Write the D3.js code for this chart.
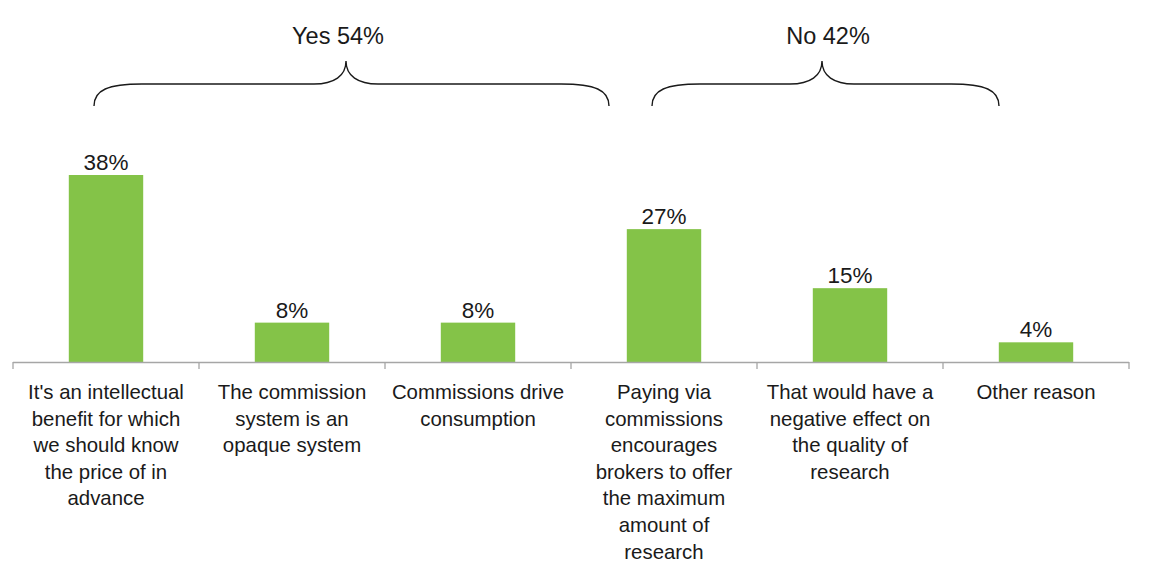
<!DOCTYPE html>
<html>
<head>
<meta charset="utf-8">
<script src="https://cdn.jsdelivr.net/npm/d3@7"></script>
<style>
  html, body { margin: 0; padding: 0; background: #fff; }
  svg { display: block; font-family: "Liberation Sans", Arial, sans-serif; }
</style>
</head>
<body>
<svg id="chart" width="1165" height="569"></svg>
<script>
// ---- data ----
const categories = [
  ["It's an intellectual", "benefit for which", "we should know", "the price of in", "advance"],
  ["The commission", "system is an", "opaque system"],
  ["Commissions drive", "consumption"],
  ["Paying via", "commissions", "encourages", "brokers to offer", "the maximum", "amount of", "research"],
  ["That would have a", "negative effect on", "the quality of", "research"],
  ["Other reason"]
];
const values = [38, 8, 8, 27, 15, 4];
const groupLabels = ["Yes 54%", "No 42%"];
const groupMembers = [[0, 1, 2], [3, 4, 5]];

// ---- layout ----
const svg = d3.select("#chart");
const baseY = 362;
const green = "#84c348";

const x = d3.scaleBand()
  .domain(d3.range(categories.length))
  .range([13, 1129])
  .paddingInner(0.6)
  .paddingOuter(0.3);

const y = d3.scaleLinear().domain([0, 38]).range([baseY, 175]);

// bars
svg.append("g").selectAll("rect")
  .data(values)
  .enter()
  .append("rect")
  .attr("x", (d, i) => x(i))
  .attr("y", d => y(d))
  .attr("width", x.bandwidth())
  .attr("height", d => baseY - y(d))
  .attr("fill", green);

// value labels
svg.append("g").selectAll("text")
  .data(values)
  .enter()
  .append("text")
  .attr("x", (d, i) => x(i) + x.bandwidth() / 2)
  .attr("y", d => y(d) - 5)
  .attr("text-anchor", "middle")
  .attr("font-size", "22.5px")
  .attr("fill", "#1a1a1a")
  .text(d => d + "%");

// axis line + ticks between categories
const left = 13;
const axisG = svg.append("g").attr("stroke", "#a6a6a6").attr("stroke-width", 1.3);
axisG.append("line")
  .attr("x1", left).attr("x2", 1129)
  .attr("y1", baseY + 0.5).attr("y2", baseY + 0.5);
axisG.selectAll("line.tick")
  .data(d3.range(categories.length + 1))
  .enter()
  .append("line")
  .attr("class", "tick")
  .attr("x1", i => left + i * (1116 / categories.length))
  .attr("x2", i => left + i * (1116 / categories.length))
  .attr("y1", baseY).attr("y2", baseY + 7);

// category labels
const catG = svg.append("g").selectAll("text")
  .data(categories)
  .enter()
  .append("text")
  .attr("text-anchor", "middle")
  .attr("font-size", "20.4px")
  .attr("fill", "#1a1a1a")
  .attr("transform", (d, i) => `translate(${x(i) + x.bandwidth() / 2},399)`);
catG.selectAll("tspan")
  .data(d => d)
  .enter()
  .append("tspan")
  .attr("x", 0)
  .attr("y", (d, j) => j * 26.6)
  .text(d => d);

// braces
const braceLayout = [
  { x0: 94, x1: 609, tip: 346, tx: 338 },
  { x0: 652, x1: 999, tip: 822, tx: 828 }
];
const yEnd = 106, yH = 84, yTip = 61;

function bracePath(b) {
  return `M${b.x0},${yEnd}` +
    ` C${b.x0},${yH + 6} ${b.x0 + 14},${yH} ${b.x0 + 48},${yH}` +
    ` L${b.tip - 32},${yH}` +
    ` C${b.tip - 12},${yH} ${b.tip},${yH - 8} ${b.tip},${yTip}` +
    ` C${b.tip},${yH - 8} ${b.tip + 12},${yH} ${b.tip + 32},${yH}` +
    ` L${b.x1 - 48},${yH}` +
    ` C${b.x1 - 14},${yH} ${b.x1},${yH + 6} ${b.x1},${yEnd}`;
}

const braceG = svg.append("g");
braceG.selectAll("path")
  .data(groupMembers)
  .enter()
  .append("path")
  .attr("d", (d, i) => bracePath(braceLayout[i]))
  .attr("fill", "none")
  .attr("stroke", "#1a1a1a")
  .attr("stroke-width", 1.4);

braceG.selectAll("text")
  .data(groupLabels)
  .enter()
  .append("text")
  .attr("x", (d, i) => braceLayout[i].tx)
  .attr("y", 43.5)
  .attr("text-anchor", "middle")
  .attr("font-size", "23.5px")
  .attr("fill", "#1a1a1a")
  .text(d => d);
</script>
</body>
</html>
